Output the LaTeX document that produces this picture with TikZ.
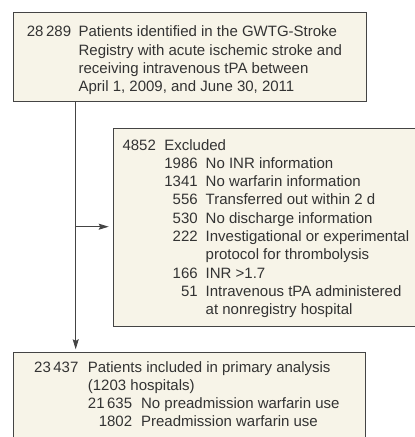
\documentclass[tikz,border=0pt]{standalone}
\usepackage{fontspec}
\setmainfont{Liberation Sans}
\usetikzlibrary{arrows.meta}
\definecolor{boxfill}{HTML}{F7F4E8}
\definecolor{boxline}{HTML}{444444}
\definecolor{ink}{HTML}{333333}

\begin{document}
\begin{tikzpicture}[x=1pt,y=-1pt,
  panel/.style={draw=boxline,fill=boxfill,line width=0.9pt,inner sep=0pt,anchor=north west},
  lines/.style={inner sep=0pt,anchor=base west,text=ink,font=\fontsize{15}{18.3}\selectfont},
  flow/.style={draw=boxline,line width=0.9pt,-{Stealth[length=10pt,width=6pt,inset=1.5pt]}}]
\useasboundingbox (0,0) rectangle (415,437);
\clip (0,0) rectangle (415,437);

\node (registry) at (12.7,12.3) [panel, minimum width=353.3pt, minimum height=88.7pt] {};
\node (excluded) at (112.7,127.7) [panel, minimum width=317.3pt, minimum height=198.3pt] {};
\node (included) at (12.7,352.3) [panel, minimum width=352.6pt, minimum height=107.7pt] {};

\node (registrytext) at (26.7,36.7) [lines] {\begin{tabular}[t]{@{}r@{\hspace{7.5pt}}l@{}}
28\,289 & Patients identified in the GWTG-Stroke\\
 & Registry with acute ischemic stroke and\\
 & receiving intravenous tPA between\\
 & April 1, 2009, and June 30, 2011
\end{tabular}};

\node (excludedtext) at (122.3,150) [lines] {\begin{tabular}[t]{@{}r@{\hspace{8.5pt}}l@{}}
4852 & Excluded\\
 & \begin{tabular}[t]{@{}r@{\hspace{8pt}}l@{}}
   1986 & No INR information\\
   1341 & No warfarin information\\
   556 & Transferred out within 2 d\\
   530 & No discharge information\\
   222 & Investigational or experimental\\
    & protocol for thrombolysis\\
   166 & INR >1.7\\
   51 & Intravenous tPA administered\\
    & at nonregistry hospital
   \end{tabular}
\end{tabular}};

\node (includedtext) at (34,372) [lines] {\begin{tabular}[t]{@{}r@{\hspace{9.5pt}}l@{}}
23\,437 & Patients included in primary analysis\\
 & (1203 hospitals)\\
 & \begin{tabular}[t]{@{}r@{\hspace{9pt}}l@{}}
   21\,635 & No preadmission warfarin use\\
   1802 & Preadmission warfarin use
   \end{tabular}
\end{tabular}};

% flow lines
\coordinate (split) at (75.7,226.7);
\draw[flow, shorten >=3pt] (registry.south -| split) -- (included.north -| split);
\draw[flow, shorten >=4pt] (split) -- (excluded.west |- split);

\end{tikzpicture}
\end{document}
